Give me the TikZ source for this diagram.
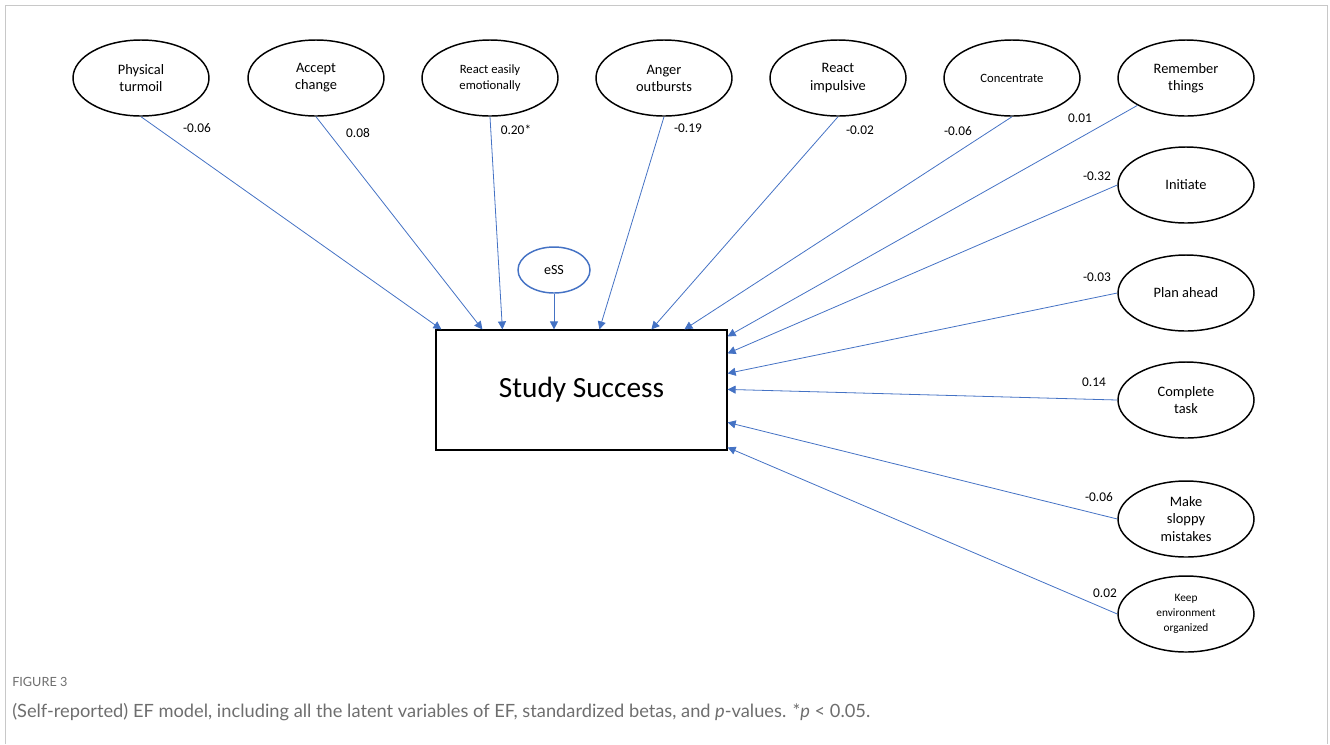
\documentclass[tikz,border=0pt]{standalone}
\usepackage{fontspec}
\setmainfont{Carlito}
\newfontfamily\capfont{Lato}
\usetikzlibrary{shapes.geometric,arrows.meta,calc}
\definecolor{pathblue}{HTML}{4472C4}
\definecolor{framegray}{HTML}{C8C8C8}
\definecolor{capgray}{HTML}{6E6E6E}
\tikzset{
  latent/.style={ellipse,draw,line width=1.1pt,minimum width=102pt,minimum height=57pt,inner sep=0pt,align=center,font=\fontsize{10.8}{12.8}\selectfont},
  path/.style={pathblue,line width=0.6pt,-{Triangle[length=6pt,width=6pt]}},
  beta/.style={font=\fontsize{10}{12}\selectfont}
}

\begin{document}
\begin{tikzpicture}[x=0.75pt,y=-0.75pt]
  \useasboundingbox (0,0) rectangle (1330,744);
  \draw [framegray, line width=1.4pt] (5.5,744) -- (5.5,5.5) -- (1327.5,5.5) -- (1327.5,744);

  % outcome and residual
  \node (ss) at (581.5,390)[draw,line width=0.9pt,minimum width=218.25pt,minimum height=90pt,font=\fontsize{22}{26}\selectfont]{Study Success};
  \node (ess) at (554,270)[ellipse,draw=pathblue,line width=1.1pt,minimum width=54pt,minimum height=34.5pt,inner sep=0pt,font=\fontsize{10.5}{12.5}\selectfont]{eSS};

  % latent EF variables, top row
  \node (phys) at (141,78)[latent]{Physical\\turmoil};
  \node (acc) at (316,78)[latent]{Accept\\change};
  \node (reac) at (490,78)[latent,font=\fontsize{9.5}{12}\selectfont]{React easily\\emotionally};
  \node (ang) at (664,78)[latent]{Anger\\outbursts};
  \node (imp) at (838,78)[latent]{React\\impulsive};
  \node (conc) at (1012,78)[latent,font=\fontsize{9.5}{12}\selectfont]{Concentrate};
  \node (rem) at (1186,78)[latent]{Remember\\things};
  % latent EF variables, right column
  \node (init) at (1186,185)[latent]{Initiate};
  \node (plan) at (1186,293)[latent]{Plan ahead};
  \node (comp) at (1186,400)[latent]{Complete\\task};
  \node (slop) at (1186,519)[latent]{Make\\sloppy\\mistakes};
  \node (keep) at (1186,614)[latent,font=\fontsize{8.5}{11.2}\selectfont]{Keep\\environment\\organized};

  % arrow ends on the box
  \coordinate (t1) at ($(ss.north west)+(6,0)$);
  \coordinate (t2) at ($(ss.north west)+(47,0)$);
  \coordinate (t3) at ($(ss.north west)+(67,0)$);
  \coordinate (t4) at ($(ss.north west)+(164,0)$);
  \coordinate (t5) at ($(ss.north west)+(216,0)$);
  \coordinate (t6) at ($(ss.north west)+(249,0)$);
  \coordinate (r1) at ($(ss.north east)+(0,7)$);
  \coordinate (r2) at ($(ss.north east)+(0,24)$);
  \coordinate (r3) at ($(ss.north east)+(0,44)$);
  \coordinate (r4) at ($(ss.north east)+(0,60)$);
  \coordinate (r5) at ($(ss.north east)+(0,93)$);
  \coordinate (r6) at ($(ss.north east)+(0,118)$);

  \draw [path] (ess.south) -- (ess.south |- ss.north);
  \draw [path] (phys.south) -- (t1);
  \draw [path] (acc.south) -- (t2);
  \draw [path] (reac.south) -- (t3);
  \draw [path] (ang.south) -- (t4);
  \draw [path] (imp.south) -- (t5);
  \draw [path] (conc.south) -- (t6);
  \draw [path] (rem) -- (r1);
  \draw [path] (init.west) -- (r2);
  \draw [path] (plan.west) -- (r3);
  \draw [path] (comp.west) -- (r4);
  \draw [path] (slop.west) -- (r5);
  \draw [path] (keep.west) -- (r6);

  % standardized betas
  \node (b1) at (197,128)[beta]{-0.06};
  \node (b2) at (358,133)[beta]{0.08};
  \node (b3) at (516,130)[beta]{0.20*};
  \node (b4) at (688,128)[beta]{-0.19};
  \node (b5) at (860,130)[beta]{-0.02};
  \node (b6) at (958,131)[beta]{-0.06};
  \node (b7) at (1080,118)[beta]{0.01};
  \node (b8) at (1097,176)[beta]{-0.32};
  \node (b9) at (1097,277)[beta]{-0.03};
  \node (b10) at (1094,382)[beta]{0.14};
  \node (b11) at (1099,497)[beta]{-0.06};
  \node (b12) at (1105,593)[beta]{0.02};

  % caption
  \node (fig) at (12,682)[anchor=west,inner sep=0pt,capgray,font=\capfont\fontsize{9.5}{10}\selectfont]{FIGURE 3};
  \node (cap) at (12,712)[anchor=west,inner sep=0pt,capgray,font=\capfont\fontsize{13.7}{15}\selectfont]{(Self-reported) EF model, including all the latent variables of EF, standardized betas, and \textit{p}-values. *\textit{p} < 0.05.};
\end{tikzpicture}
\end{document}
